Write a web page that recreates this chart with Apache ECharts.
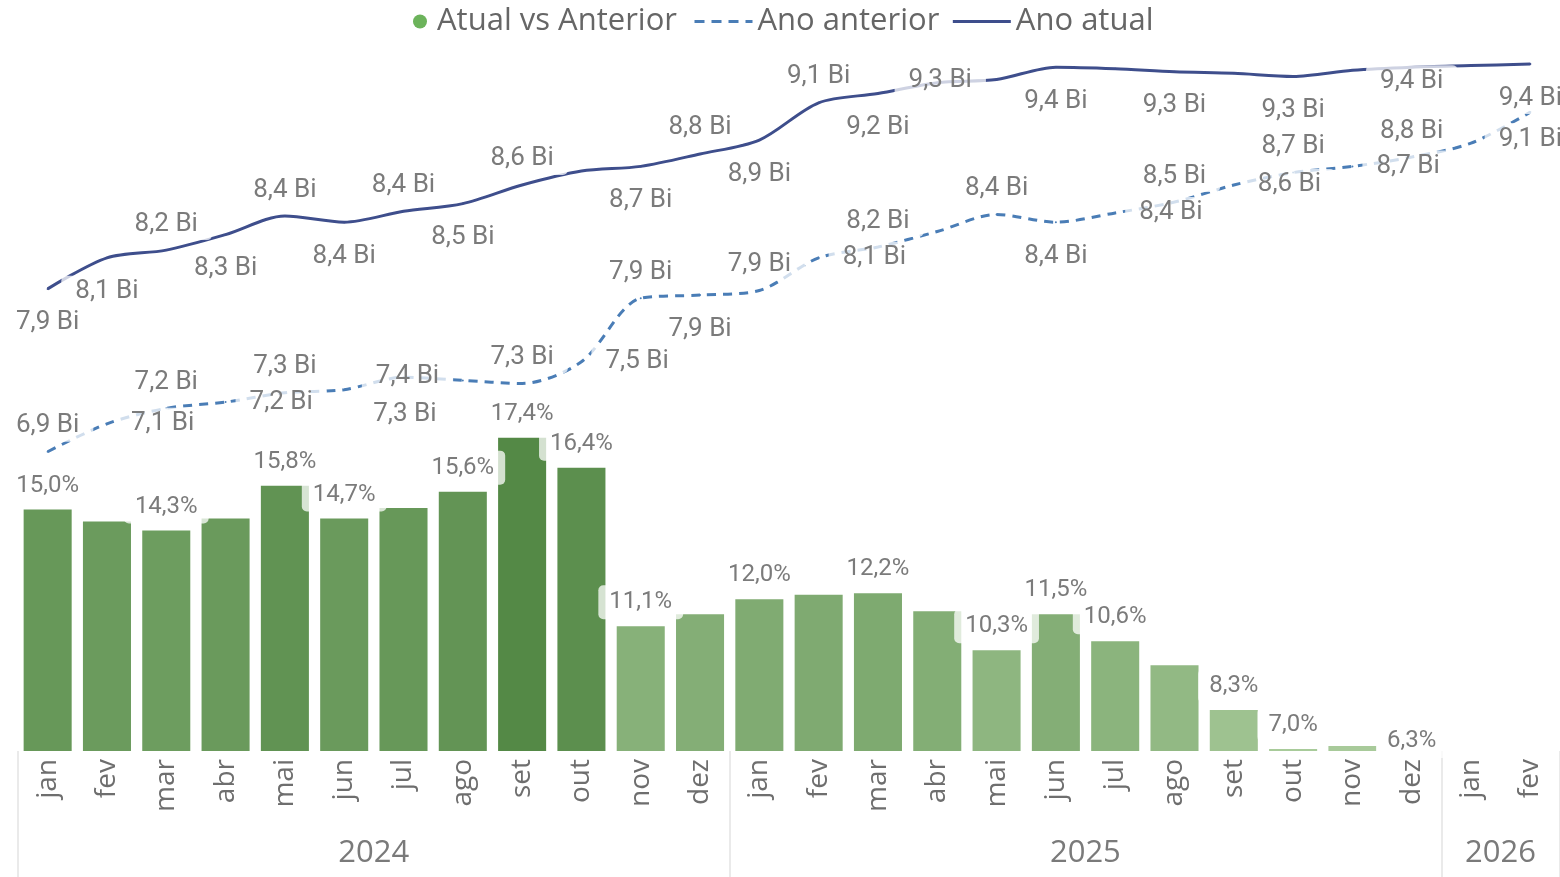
<!DOCTYPE html>
<html>
<head>
<meta charset="utf-8">
<script src="https://cdn.jsdelivr.net/npm/echarts@6/dist/echarts.min.js"></script>
<style>
  html, body { margin: 0; background: #fff; }
  #main { width: 1560px; height: 877px; }
</style>
</head>
<body>
<div id="main"></div>
<script>
const months = ['jan', 'fev', 'mar', 'abr', 'mai', 'jun', 'jul', 'ago', 'set', 'out', 'nov', 'dez',
  'jan', 'fev', 'mar', 'abr', 'mai', 'jun', 'jul', 'ago', 'set', 'out', 'nov', 'dez',
  'jan', 'fev'];
const years = ['2024', '2024', '2024', '2024', '2024', '2024', '2024', '2024', '2024', '2024', '2024', '2024',
  '2025', '2025', '2025', '2025', '2025', '2025', '2025', '2025', '2025', '2025', '2025', '2025',
  '2026', '2026'];

// Atual vs Anterior (%)
const growthPct = [15.0, 14.6, 14.3, 14.7, 15.8, 14.7, 15.05, 15.6, 17.4, 16.4, 11.1, 11.5,
  12.0, 12.15, 12.2, 11.6, 10.3, 11.5, 10.6, 9.8, 8.3, 7.0, 7.1, 6.3, null, null];
// Ano anterior (Bi)
const prevYear = [6.88, 7.06, 7.16, 7.20, 7.26, 7.28, 7.36, 7.34, 7.32, 7.46, 7.87, 7.89,
  7.92, 8.13, 8.20, 8.30, 8.41, 8.36, 8.42, 8.49, 8.60, 8.68, 8.72, 8.78, 8.87, 9.07];
// Ano atual (Bi)
const currYear = [7.93, 8.13, 8.18, 8.28, 8.40, 8.36, 8.43, 8.48, 8.60, 8.69, 8.72, 8.80,
  8.89, 9.13, 9.19, 9.26, 9.28, 9.36, 9.35, 9.33, 9.32, 9.30, 9.34, 9.36, 9.37, 9.38];

// which labels are drawn, and where (T top, B bottom, R right, C centre, '' hidden)
const barLabelShown = [0, 2, 4, 5, 7, 8, 9, 10, 12, 14, 16, 17, 18, 20, 21, 23];
const barLabelOffset = { 23: [0, 14] };
const prevLabelPos = ['T', 'R', 'T', 'R', 'T', 'R', 'C', '', 'T', 'R', 'T', 'B', 'T', 'R', 'T', '',
  'T', 'B', 'R', 'T', 'R', 'T', 'R', 'T', '', 'B'];
const prevLabelOffset = { 5: [5, 25], 6: [4, -1], 25: [0, -7] };
const currLabelPos = ['B', 'B', 'T', 'B', 'T', 'B', 'T', 'B', 'T', '', 'B', 'T', 'B', 'T', 'B', 'C',
  '', 'B', '', 'B', '', 'B', '', 'C', '', 'B'];
const currLabelOffset = { 15: [3, -2], 23: [0, 14] };

var chartDom = document.getElementById('main');
var myChart = echarts.init(chartDom);

const fmt = (v) => v.toFixed(1).replace('.', ',');

const labelBox = {
  fontFamily: 'Roboto',
  color: '#7b7b7b',
  backgroundColor: 'rgba(255,255,255,0.75)',
  borderRadius: 5
};

function lineLabel(code, off) {
  if (!code) return { show: false };
  return {
    show: true,
    position: { T: 'top', B: 'bottom', R: 'right', C: 'inside' }[code],
    distance: { T: 9, B: 17, R: 9, C: 0 }[code],
    offset: off || [0, 0]
  };
}

// year groups -> separators and centred labels
const yearStart = years.map((y, i) => i === 0 || y !== years[i - 1]);
const yearLabelIdx = [];
years.forEach((y, i) => {
  if (yearStart[i]) {
    const n = years.filter((v) => v === y).length;
    yearLabelIdx.push(i + Math.floor((n - 1) / 2));
  }
});

const legendText = { fontFamily: 'Open Sans', fontSize: 31, color: '#666' };

var option = {
  animation: false,
  grid: { left: 18, right: 0, top: 60, bottom: 126 },
  legend: [
    {
      data: [{ name: 'Atual vs Anterior', icon: 'circle', itemStyle: { color: '#6cb35b' } }],
      left: 408, top: 1, itemWidth: 24, itemHeight: 14,
      textStyle: legendText
    },
    {
      data: [
        { name: 'Ano anterior', itemStyle: { opacity: 0 }, lineStyle: { width: 3, type: [10, 7] } },
        { name: 'Ano atual', itemStyle: { opacity: 0 }, lineStyle: { width: 3 } }
      ],
      left: 688, top: 1, itemWidth: 58, itemHeight: 14, itemGap: 12,
      textStyle: legendText
    }
  ],
  visualMap: {
    show: false,
    seriesIndex: 0,
    min: 6.3,
    max: 17.4,
    inRange: { color: ['#aecfa0', '#548946'] }
  },
  xAxis: [
    {
      type: 'category',
      data: months,
      position: 'bottom',
      axisLine: { show: false },
      axisTick: { show: false },
      axisLabel: {
        interval: 0, rotate: 90, margin: 8,
        fontFamily: 'Open Sans', fontSize: 28, color: '#6e6e6e'
      }
    },
    {
      type: 'category',
      data: years,
      position: 'bottom',
      axisLine: { show: false },
      axisTick: {
        show: true,
        length: 126,
        interval: (i) => yearStart[i],
        lineStyle: { color: '#e3e3e3', width: 1.5 }
      },
      axisLabel: {
        interval: (i) => yearLabelIdx.includes(i),
        margin: 87,
        padding: [0, 0, 0, 59],
        fontFamily: 'Open Sans', fontSize: 31, color: '#7a7a7a'
      }
    }
  ],
  yAxis: [
    { type: 'value', min: 6.93, max: 30.03, startValue: 6.93, show: false },
    { type: 'value', min: 4.95, max: 9.406, show: false }
  ],
  series: [
    {
      name: 'Atual vs Anterior',
      type: 'bar',
      xAxisIndex: 0,
      yAxisIndex: 0,
      barCategoryGap: '19%',
      itemStyle: { color: '#6cb35b' },
      label: Object.assign({
        position: 'top',
        distance: 7,
        fontSize: 24,
        lineHeight: 24,
        padding: [5, 11],
        formatter: (p) => fmt(p.value) + '%'
      }, labelBox),
      data: growthPct.map((v, i) => ({
        value: v,
        label: { show: barLabelShown.includes(i), offset: barLabelOffset[i] || [0, 0] }
      }))
    },
    {
      name: 'Ano anterior',
      type: 'line',
      xAxisIndex: 0,
      yAxisIndex: 1,
      smooth: 0.3,
      symbol: 'circle',
      symbolSize: 2,
      showAllSymbol: true,
      lineStyle: { color: '#4a7db6', width: 3, type: [9, 7] },
      itemStyle: { color: '#4a7db6' },
      label: Object.assign({
        fontSize: 26,
        lineHeight: 26,
        padding: [3, 14],
        formatter: (p) => fmt(p.value) + ' Bi'
      }, labelBox),
      data: prevYear.map((v, i) => ({ value: v, label: lineLabel(prevLabelPos[i], prevLabelOffset[i]) }))
    },
    {
      name: 'Ano atual',
      type: 'line',
      xAxisIndex: 0,
      yAxisIndex: 1,
      smooth: 0.3,
      symbol: 'circle',
      symbolSize: 2,
      showAllSymbol: true,
      lineStyle: { color: '#3e4e8c', width: 3 },
      itemStyle: { color: '#3e4e8c' },
      label: Object.assign({
        fontSize: 26,
        lineHeight: 26,
        padding: [3, 14],
        formatter: (p) => fmt(p.value) + ' Bi'
      }, labelBox),
      data: currYear.map((v, i) => ({ value: v, label: lineLabel(currLabelPos[i], currLabelOffset[i]) }))
    }
  ]
};

option && myChart.setOption(option);
</script>
</body>
</html>
